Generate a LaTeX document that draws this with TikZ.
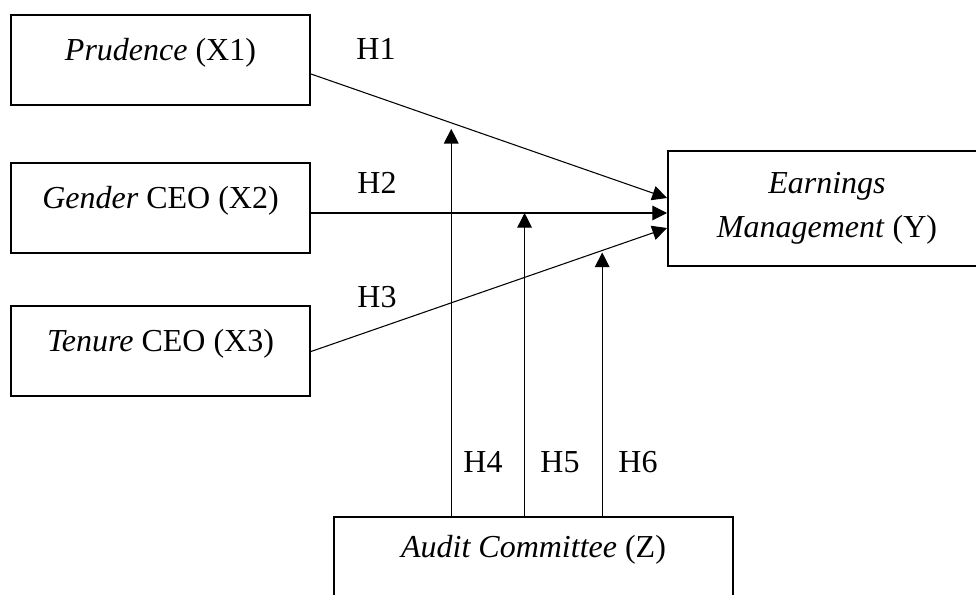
\documentclass[tikz,border=0pt]{standalone}
\usepackage{fontspec}
\setmainfont{Liberation Serif}
\usetikzlibrary{arrows.meta,calc}

\begin{document}
\begin{tikzpicture}[x=0.75pt, y=-0.75pt,
    font=\fontsize{24}{33}\selectfont,
    varbox/.style={draw, line width=1.5pt, minimum width=224.25pt, minimum height=67.5pt,
        inner sep=0pt, text height=12pt, text depth=12pt},
    conn/.style={line width=0.8pt, -{Triangle[length=11pt, width=11pt]}}]
        % Canvas (right and bottom boxes run off the page)
        \useasboundingbox (0,0) rectangle (976,595);
        \clip (0,0) rectangle (976,595);

        % Independent variables
        \node[varbox] (x1) at (160.5,60.5) {\textit{Prudence} (X1)};
        \node[varbox] (x2) at (160.5,208.5) {\textit{Gender} CEO (X2)};
        \node[varbox] (x3) at (160.5,351.5) {\textit{Tenure} CEO (X3)};

        % Dependent variable
        \node[draw, line width=1.5pt, minimum width=238.5pt, minimum height=86.25pt,
            align=center] (em) at (827,208.5) {\textit{Earnings}\\\textit{Management} (Y)};

        % Moderating variable
        \node[varbox, minimum width=299.25pt, minimum height=61.5pt] (ac) at (533.5,558)
            {\textit{Audit Committee} (Z)};

        % Direct effects
        \draw[conn] ($(x1.east)+(0,13.5)$) -- coordinate[pos=0.394] (m4) ($(em.west)+(0,-10.5)$);
        \draw[conn] ($(x2.east)+(0,4.5)$) -- coordinate[pos=0.60] (m5) ($(em.west)+(0,4.5)$);
        \draw[conn] (x3.east) -- coordinate[pos=0.818] (m6) ($(em.west)+(0,19.5)$);

        % Moderation
        \draw[conn] (ac.north -| m4) -- ($(m4)+(0,6)$);
        \draw[conn] (ac.north -| m5) -- (m5);
        \draw[conn] (ac.north -| m6) -- ($(m6)+(0,2)$);

        % Hypotheses
        \node (h1) at (376,49) {H1};
        \node (h2) at (377,183) {H2};
        \node (h3) at (377,297) {H3};
        \node (h4) at (483,462) {H4};
        \node (h5) at (560,462) {H5};
        \node (h6) at (638,462) {H6};
\end{tikzpicture}
\end{document}
